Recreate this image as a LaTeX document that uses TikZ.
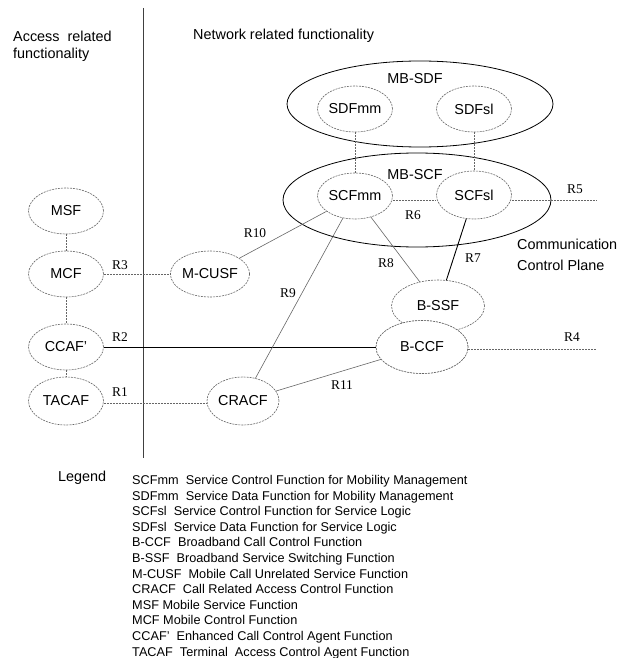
\documentclass[tikz,border=0pt]{standalone}
\usepackage{fontspec}
\setmainfont{Liberation Sans}
\newfontfamily\refpointfont{Liberation Serif}
\usetikzlibrary{shapes.geometric}

\tikzset{
  func/.style={ellipse, draw=black!60, dash pattern=on 2pt off 1pt, line width=0.6pt,
    fill=white, inner sep=0pt, minimum width=75pt, minimum height=46pt,
    font=\fontsize{14.4}{16}\selectfont},
  group/.style={draw=black, line width=0.8pt},
  dashlink/.style={draw=black!60, dash pattern=on 2pt off 1pt, line width=0.6pt},
  thinlink/.style={draw=black!60, line width=0.6pt},
  solidlink/.style={draw=black, line width=0.9pt},
  reflabel/.style={font=\refpointfont\fontsize{13.4}{15}\selectfont, inner sep=0pt},
  heading/.style={font=\fontsize{14.4}{17}\selectfont, inner sep=0pt, anchor=west},
}

\begin{document}
\begin{tikzpicture}[x=1pt,y=-1pt]
\useasboundingbox (0,0) rectangle (633,658);

% divider between access and network side
\draw[black!75, line width=1pt] (143,8) -- (143,458);

% headings
\node[heading, align=left, anchor=north west] (acc) at (13,31) {Access\ \ related\\functionality};
\node[heading] (net) at (193,36) {Network related functionality};
\node[heading, align=left, anchor=north west] (ccp) at (517,239) {Communication\\[4pt]Control Plane};

% service data / control groupings
\draw[group] (420,104) ellipse [x radius=133pt, y radius=43pt];
\draw[group] (417,200) ellipse [x radius=134pt, y radius=47pt];
\node[font=\fontsize{14.4}{16}\selectfont] (mbsdf) at (415,79) {MB-SDF};
\node[font=\fontsize{14.4}{16}\selectfont] (mbscf) at (415,175) {MB-SCF};

% functional entities
\node[func] (sdfmm) at (355,109) {SDFmm};
\node[func] (sdfsl) at (474,109) {SDFsl};
\node[func] (scfmm) at (355,196) {SCFmm};
\node[func, minimum height=48pt] (scfsl) at (474,195) {SCFsl};

\node[func] (msf) at (66,211) {MSF};
\node[func] (mcf) at (66,274) {MCF};
\node[func] (ccaf) at (66,347) {CCAF'};
\node[func, minimum height=48pt] (tacaf) at (66,401) {TACAF};

\node[func] (mcusf) at (210,274) {M-CUSF};
\node[func, minimum width=72pt, minimum height=48pt] (cracf) at (243,401) {CRACF};

\node[func, minimum width=93pt, minimum height=52pt] (bssf) at (438,306) {B-SSF};
\node[func, minimum width=92pt, minimum height=53pt] (bccf) at (422,347) {B-CCF};

\coordinate (r5end) at (597,200);
\coordinate (r4end) at (597,349);

% links
\draw[dashlink] (sdfmm) -- (scfmm);
\draw[dashlink] (sdfsl) -- (scfsl);
\draw[dashlink] (msf) -- (mcf);
\draw[dashlink] (mcf) -- (ccaf);
\draw[dashlink] (ccaf) -- (tacaf);
\draw[dashlink] (mcf) -- (mcusf);
\draw[dashlink] (tacaf.east |- 0,403) -- (cracf.west |- 0,403);
\draw[dashlink] (scfmm.east |- 0,200) -- (scfsl.west |- 0,200);
\draw[dashlink] (scfsl.east |- 0,200) -- (r5end);
\draw[dashlink] (bccf.east |- 0,349) -- (r4end);
\draw[solidlink] (ccaf) -- (bccf);
\draw[thinlink] (mcusf) -- (scfmm);
\draw[thinlink] (cracf) -- (scfmm);
\draw[thinlink] (cracf) -- (bccf);
\draw[thinlink] (scfmm) -- (bssf);
\draw[solidlink] (scfsl) -- (bssf);

% redraw B-CCF above B-SSF
\node[func, minimum width=92pt, minimum height=53pt] at (422,347) {B-CCF};

% reference point labels
\node[reflabel] (r1) at (120,392) {R1};
\node[reflabel] (r2) at (120,337) {R2};
\node[reflabel] (r3) at (120,265) {R3};
\node[reflabel] (r4) at (572,337) {R4};
\node[reflabel] (r5) at (575,189) {R5};
\node[reflabel] (r6) at (413,215) {R6};
\node[reflabel] (r7) at (473,258) {R7};
\node[reflabel] (r8) at (386,263) {R8};
\node[reflabel] (r9) at (288,293) {R9};
\node[reflabel] (r10) at (255,233) {R10};
\node[reflabel] (r11) at (342,385) {R11};

% legend
\node[heading] (leg) at (58,478) {Legend};
\node[anchor=north west, align=left, inner sep=0pt,
      font=\fontsize{12.7}{15.6}\selectfont] (legtext) at (132,475) {%
SCFmm\ \ Service Control Function for Mobility Management\\
SDFmm\ \ Service Data Function for Mobility Management\\
SCFsl\ \ Service Control Function for Service Logic\\
SDFsl\ \ Service Data Function for Service Logic\\
B-CCF\ \ Broadband Call Control Function\\
B-SSF\ \ Broadband Service Switching Function\\
M-CUSF\ \ Mobile Call Unrelated Service Function\\
CRACF\ \ Call Related Access Control Function\\
MSF Mobile Service Function\\
MCF Mobile Control Function\\
CCAF'\ \ Enhanced Call Control Agent Function\\
TACAF\ \ Terminal\ \ Access Control Agent Function};
\end{tikzpicture}
\end{document}
